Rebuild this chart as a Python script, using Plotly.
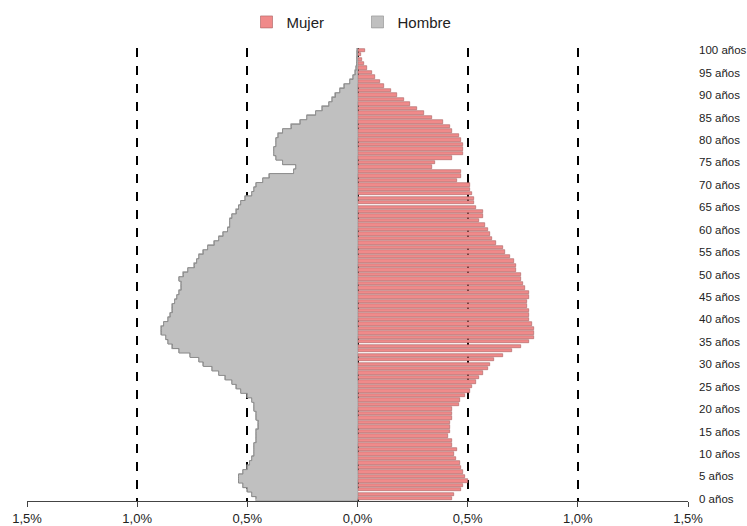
import plotly.graph_objects as go

ages = list(range(0, 101))

hombre = [0.46, 0.48, 0.50, 0.52, 0.54, 0.54, 0.52, 0.50, 0.49, 0.48,
          0.47, 0.47, 0.47, 0.46, 0.46, 0.46, 0.45, 0.45, 0.46, 0.46,
          0.47, 0.47, 0.48, 0.50, 0.53, 0.55, 0.57, 0.60, 0.63, 0.66,
          0.70, 0.72, 0.76, 0.81, 0.84, 0.86, 0.87, 0.89, 0.89, 0.88,
          0.86, 0.85, 0.84, 0.84, 0.83, 0.82, 0.81, 0.80, 0.80, 0.81,
          0.79, 0.77, 0.74, 0.73, 0.72, 0.70, 0.68, 0.65, 0.63, 0.61,
          0.59, 0.58, 0.58, 0.57, 0.55, 0.54, 0.53, 0.51, 0.48, 0.47,
          0.46, 0.43, 0.40, 0.29, 0.28, 0.34, 0.37, 0.38, 0.38, 0.37,
          0.37, 0.36, 0.34, 0.30, 0.26, 0.23, 0.19, 0.16, 0.13, 0.115,
          0.10, 0.08, 0.06, 0.035, 0.02, 0.01, 0.006, 0.004, 0.003, 0.002,
          0.002]

mujer = [0.43, 0.44, 0.47, 0.48, 0.50, 0.49, 0.48, 0.47, 0.465, 0.445,
         0.44, 0.45, 0.43, 0.43, 0.41, 0.42, 0.42, 0.42, 0.43, 0.43,
         0.43, 0.46, 0.465, 0.49, 0.51, 0.52, 0.54, 0.55, 0.57, 0.59,
         0.60, 0.62, 0.66, 0.70, 0.74, 0.78, 0.80, 0.80, 0.80, 0.79,
         0.78, 0.78, 0.78, 0.77, 0.77, 0.78, 0.78, 0.76, 0.75, 0.74,
         0.74, 0.72, 0.72, 0.71, 0.69, 0.67, 0.66, 0.63, 0.61, 0.60,
         0.59, 0.58, 0.55, 0.57, 0.57, 0.54, 0.53, 0.53, 0.52, 0.51,
         0.51, 0.45, 0.47, 0.47, 0.34, 0.35, 0.43, 0.48, 0.48, 0.48,
         0.47, 0.46, 0.43, 0.42, 0.39, 0.34, 0.30, 0.27, 0.24, 0.21,
         0.18, 0.15, 0.12, 0.10, 0.08, 0.065, 0.045, 0.028, 0.022, 0.018,
         0.032]

x_ticks = [-1.5, -1.0, -0.5, 0.0, 0.5, 1.0, 1.5]
x_labels = ["1,5%", "1,0%", "0,5%", "0,0%", "0,5%", "1,0%", "1,5%"]
y_ticks = list(range(0, 101, 5))
y_labels = [f"{a} años" for a in y_ticks]

hombre_neg = [-v for v in hombre]

fig = go.Figure()
fig.add_trace(go.Bar(
    y=ages, x=mujer, orientation="h", name="Mujer", width=0.76,
    marker=dict(color="#F08A8A", line=dict(color="#A86060", width=0.6)),
))
fig.add_trace(go.Bar(
    y=ages, x=hombre_neg, orientation="h", name="Hombre", width=1.0,
    marker=dict(color="#C0C0C0", line=dict(color="#8C8C8C", width=0.6)),
))
# seamless male profile (same data) with darker outer outline
fig.add_trace(go.Scatter(
    y=ages, x=hombre_neg, mode="lines", fill="tozerox", fillcolor="#C0C0C0",
    line=dict(shape="vhv", color="#8C8C8C", width=1),
    showlegend=False, hoverinfo="skip",
))

fig.update_layout(
    width=747, height=526,
    margin=dict(l=27, r=59, t=48, b=25, autoexpand=False),
    paper_bgcolor="white", plot_bgcolor="white",
    barmode="overlay", bargap=0,
    font=dict(family="Liberation Sans, Arial, sans-serif", color="#222222"),
    showlegend=True,
    legend=dict(orientation="h", x=0.5, xanchor="center", y=1.057, yanchor="middle",
                font=dict(size=15), entrywidth=66, itemwidth=30,
                traceorder="normal"),
    xaxis=dict(range=[-1.5, 1.5], tickvals=x_ticks, ticktext=x_labels,
               showgrid=True, gridcolor="black", griddash="dash", gridwidth=1.5,
               zeroline=False, showline=True, linecolor="#444444", linewidth=1,
               ticks="outside", ticklen=5, tickcolor="#444444",
               tickfont=dict(size=13), fixedrange=True),
    yaxis=dict(range=[-0.5, 100.5], side="right", tickvals=y_ticks, ticktext=y_labels,
               showgrid=False, zeroline=False, showline=False, ticks="",
               ticklabelstandoff=10, tickfont=dict(size=11.5), fixedrange=True),
    yaxis2=dict(range=[-0.5, 100.5], overlaying="y", anchor="free", position=0.5,
                side="left", showline=True, linecolor="#555555", linewidth=1,
                ticks="outside", ticklen=3, tickcolor="#222222", dtick=1, tick0=0,
                showticklabels=False, showgrid=False, zeroline=False, fixedrange=True),
)

fig.write_html("out.html", config={"displayModeBar": False},
               post_script="document.body.style.margin='0';")
